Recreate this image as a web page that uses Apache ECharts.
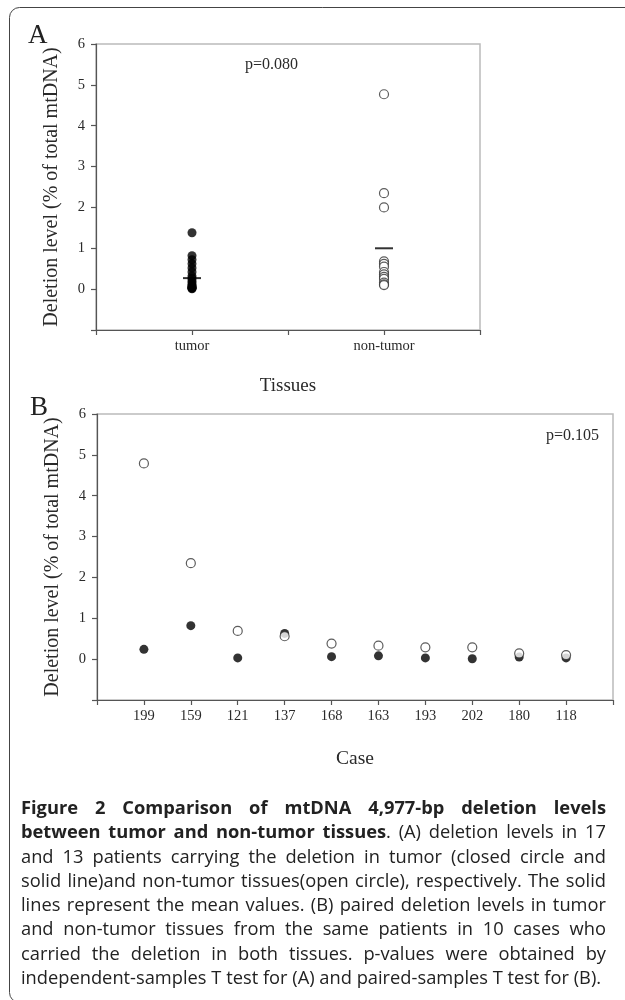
<!DOCTYPE html>
<html>
<head>
<meta charset="utf-8">
<script src="https://cdn.jsdelivr.net/npm/echarts@6/dist/echarts.min.js"></script>
<style>
  html, body { margin: 0; padding: 0; background: #fff; }
  #chart { position: absolute; left: 0; top: 0; width: 625px; height: 1000px; }
  #caption { position: absolute; left: 21px; top: 795px; width: 585px; font-family: "Open Sans", sans-serif; font-size: 18.3px; line-height: 24.3px; color: #222; }
  #caption div { text-align: justify; text-align-last: justify; white-space: nowrap; }
  #caption div.last { text-align-last: left; }
</style>
</head>
<body>
<div id="chart"></div>
<div id="caption">
  <div><b>Figure 2 Comparison of mtDNA 4,977-bp deletion levels</b></div>
  <div><b>between tumor and non-tumor tissues</b>. (A) deletion levels in 17</div>
  <div>and 13 patients carrying the deletion in tumor (closed circle and</div>
  <div>solid line)and non-tumor tissues(open circle), respectively. The solid</div>
  <div>lines represent the mean values. (B) paired deletion levels in tumor</div>
  <div>and non-tumor tissues from the same patients in 10 cases who</div>
  <div>carried the deletion in both tissues. p-values were obtained by</div>
  <div class="last">independent-samples T test for (A) and paired-samples T test for (B).</div>
</div>
<script>
// ---- Panel A data ----
const tissueLabels = ['tumor', 'non-tumor'];
const tumorValues = [1.38, 0.82, 0.72, 0.62, 0.52, 0.42, 0.32, 0.26, 0.2, 0.15, 0.1, 0.08, 0.05, 0.04, 0.03, 0.02, 0.01];
const nonTumorValues = [4.77, 2.35, 2.0, 0.68, 0.62, 0.55, 0.42, 0.36, 0.3, 0.25, 0.16, 0.12, 0.1];
const meanValues = [0.27, 1.0];   // tumor, non-tumor
const pValueA = 'p=0.080';

// ---- Panel B data ----
const cases = ['199', '159', '121', '137', '168', '163', '193', '202', '180', '118'];
const pairedNonTumor = [4.79, 2.35, 0.69, 0.56, 0.38, 0.33, 0.29, 0.29, 0.14, 0.1];
const pairedTumor = [0.24, 0.82, 0.03, 0.63, 0.06, 0.08, 0.03, 0.01, 0.05, 0.03];
const pValueB = 'p=0.105';

const yTicks = [-1, 0, 1, 2, 3, 4, 5, 6];

const serif = '"Liberation Serif", "Times New Roman", serif';
const axisDark = '#555';
const txt = '#2a2a2a';

function yAxisCfg(gi) {
  return {
    gridIndex: gi, type: 'value', min: yTicks[0], max: yTicks[yTicks.length - 1], interval: 1,
    name: 'Deletion level (% of total mtDNA)', nameLocation: 'middle', nameGap: 34,
    nameTextStyle: { fontFamily: serif, fontSize: 20, color: txt },
    axisLine: { show: true, lineStyle: { color: axisDark, width: 1.2 } },
    axisTick: { show: true, inside: false, length: 5, lineStyle: { color: axisDark, width: 1.2 } },
    axisLabel: { fontFamily: serif, fontSize: 14.5, color: txt, margin: 11,
      formatter: v => (v < 0 ? '' : String(v)) },
    splitLine: { show: false }
  };
}

const option = {
  animation: false,
  backgroundColor: '#fff',
  grid: [
    { left: 96, top: 44, width: 384, height: 286, show: true, borderColor: '#bbb', borderWidth: 1.5, backgroundColor: 'transparent' },
    { left: 97, top: 414, width: 516, height: 286, show: true, borderColor: '#bbb', borderWidth: 1.5, backgroundColor: 'transparent' }
  ],
  xAxis: [
    {
      gridIndex: 0, type: 'value', min: 0, max: 4, interval: 1,
      name: 'Tissues', nameLocation: 'middle', nameGap: 47,
      nameTextStyle: { fontFamily: serif, fontSize: 19, color: txt },
      axisLine: { show: true, onZero: false, lineStyle: { color: axisDark, width: 1.2 } },
      axisTick: { show: true, length: 5, lineStyle: { color: axisDark, width: 1.2 } },
      axisLabel: { fontFamily: serif, fontSize: 14.5, color: txt, margin: 9,
        formatter: v => (v === 1 ? tissueLabels[0] : v === 3 ? tissueLabels[1] : '') },
      splitLine: { show: false }
    },
    {
      gridIndex: 1, type: 'value', min: 0, max: cases.length + 1, interval: 1,
      name: 'Case', nameLocation: 'middle', nameGap: 49,
      nameTextStyle: { fontFamily: serif, fontSize: 19.5, color: txt },
      axisLine: { show: true, onZero: false, lineStyle: { color: axisDark, width: 1.2 } },
      axisTick: { show: true, length: 5, lineStyle: { color: axisDark, width: 1.2 } },
      axisLabel: { fontFamily: serif, fontSize: 14.5, color: txt, margin: 9,
        formatter: v => (v >= 1 && v <= cases.length ? cases[v - 1] : '') },
      splitLine: { show: false }
    }
  ],
  yAxis: [yAxisCfg(0), yAxisCfg(1)],
  series: [
    {
      type: 'scatter', xAxisIndex: 0, yAxisIndex: 0, symbol: 'circle', symbolSize: 9,
      itemStyle: { color: '#000' },
      data: tumorValues.map(v => [1, v]), z: 2
    },
    {
      type: 'scatter', xAxisIndex: 0, yAxisIndex: 0, symbol: 'circle', symbolSize: 9,
      itemStyle: { color: '#fff', borderColor: '#333', borderWidth: 1.2 },
      data: nonTumorValues.map(v => [3, v]), z: 2
    },
    {
      type: 'scatter', xAxisIndex: 0, yAxisIndex: 0, symbol: 'rect', symbolSize: [18, 2],
      itemStyle: { color: '#000' },
      data: meanValues.map((v, i) => [i === 0 ? 1 : 3, v]), z: 3
    },
    {
      type: 'scatter', xAxisIndex: 1, yAxisIndex: 1, symbol: 'circle', symbolSize: 9,
      itemStyle: { color: '#000' },
      data: pairedTumor.map((v, i) => [i + 1, v]), z: 2
    },
    {
      type: 'scatter', xAxisIndex: 1, yAxisIndex: 1, symbol: 'circle', symbolSize: 9,
      itemStyle: { color: '#fff', borderColor: '#333', borderWidth: 1.2 },
      data: pairedNonTumor.map((v, i) => [i + 1, v]), z: 3
    }
  ],
  graphic: [
    { type: 'rect', shape: { x: 9.5, y: 7.5, width: 700, height: 995, r: 10 },
      style: { fill: 'transparent', stroke: '#444', lineWidth: 1 }, silent: true },
    { type: 'text', left: 28, top: 22, style: { text: 'A', font: '27px ' + serif, fill: '#222' } },
    { type: 'text', left: 30, top: 394, style: { text: 'B', font: '27px ' + serif, fill: '#222' } },
    { type: 'text', left: 245, top: 57, style: { text: pValueA, font: '16px ' + serif, fill: txt } },
    { type: 'text', left: 546, top: 428, style: { text: pValueB, font: '16px ' + serif, fill: txt } }
  ]
};

const chart = echarts.init(document.getElementById('chart'), null, { renderer: 'canvas' });
chart.setOption(option);
</script>
</body>
</html>
